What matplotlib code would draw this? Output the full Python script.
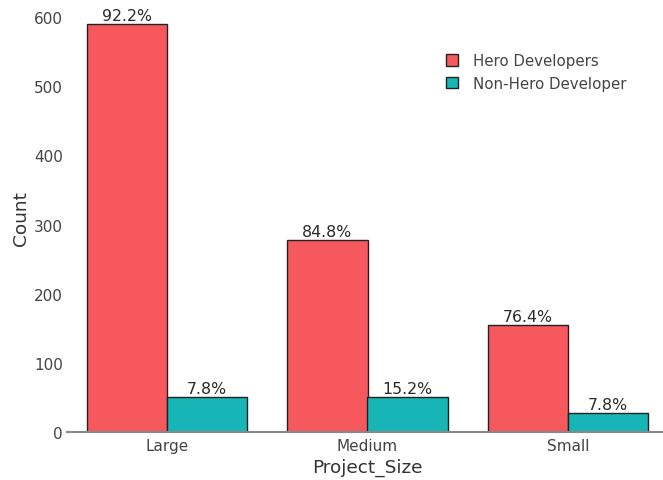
import numpy as np
import matplotlib.pyplot as plt

categories = ["Large", "Medium", "Small"]
hero = [590, 278, 155]
non_hero = [50, 50, 28]
hero_pct = ["92.2%", "84.8%", "76.4%"]
non_hero_pct = ["7.8%", "15.2%", "7.8%"]

fig = plt.figure(figsize=(6.63, 4.81), dpi=100)
ax = fig.add_axes([67 / 663, 48 / 481, 601 / 663, 428.8 / 481])

x = np.arange(len(categories))
w = 0.4
b1 = ax.bar(x - w / 2, hero, w, color="#F6585E", edgecolor="#222222", linewidth=1,
            label="Hero Developers")
b2 = ax.bar(x + w / 2, non_hero, w, color="#17B5B5", edgecolor="#222222", linewidth=1,
            label="Non-Hero Developer")

for rect, t in zip(list(b1) + list(b2), hero_pct + non_hero_pct):
    ax.text(rect.get_x() + rect.get_width() / 2, rect.get_height() + 1.5, t,
            ha="center", va="bottom", fontsize=11.3, color="#2a2a2a")

ax.set_xlim(-0.5, 2.5)
ax.set_ylim(0, 620)
ax.set_xticks(x)
ax.set_xticklabels(categories)
ax.set_yticks([0, 100, 200, 300, 400, 500, 600])
ax.tick_params(axis="both", length=0, labelsize=11, labelcolor="#444444")
ax.tick_params(axis="x", pad=4)
ax.tick_params(axis="y", pad=3)
for s in ["top", "right", "left"]:
    ax.spines[s].set_visible(False)
ax.spines["bottom"].set_color("#888888")
ax.spines["bottom"].set_linewidth(1.5)
ax.set_xlabel("Project_Size", fontsize=13.3, color="#333333", labelpad=4)
ax.set_ylabel("Count", fontsize=13.3, color="#333333", labelpad=3)

ax.legend(loc="upper left", bbox_to_anchor=((440 - 67) / 601, (433 - 48) / 428.8),
          frameon=False, fontsize=10.8, handlelength=0.8, handleheight=0.8,
          labelcolor="#444444", borderaxespad=0, handletextpad=1.0, labelspacing=0.5)

fig.savefig("out.png", dpi=100)
